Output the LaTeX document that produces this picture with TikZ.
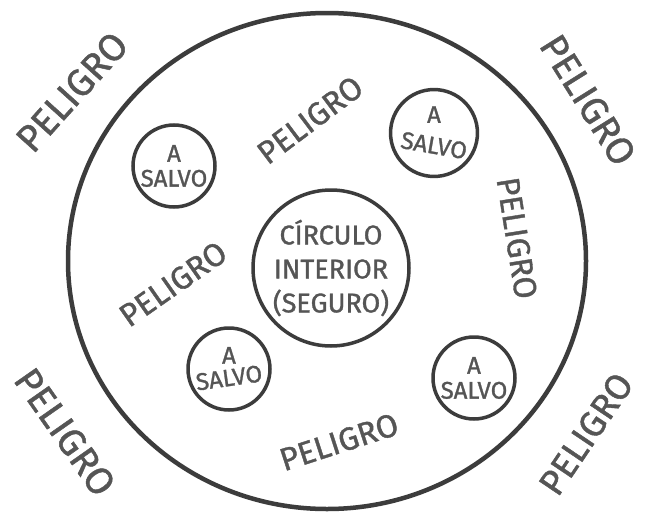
\documentclass[tikz,border=0pt]{standalone}
\usepackage{fontspec}
\setmainfont{Fira Sans}[FakeBold=1.2]
\definecolor{ink}{HTML}{3C3C3C}
\definecolor{txt}{HTML}{555555}
\begin{document}
\begin{tikzpicture}[x=1pt,y=-1pt,
  outerring/.style={draw=ink,line width=4.5pt},
  safe/.style={circle,draw=ink,line width=3.5pt,minimum size=82pt,inner sep=0pt,text=txt,align=center,font=\fontsize{24}{25}\selectfont},
  core/.style={circle,draw=ink,line width=3.5pt,minimum size=156pt,inner sep=0pt,text=txt,align=center,font=\fontsize{27}{34}\selectfont},
  danger/.style={text=txt,inner sep=0pt,font=\fontsize{38}{40}\selectfont},
  dangerin/.style={text=txt,inner sep=0pt,font=\fontsize{32}{34}\selectfont}]
\useasboundingbox[fill=white] (0,0) rectangle (645,514);
\draw[outerring] (327,261) ellipse [x radius=259pt, y radius=248pt];
\node[core] (c) at (331,268) {CÍRCULO\\INTERIOR\\(SEGURO)};
\node[safe] (s1) at (174,166) {A\\SALVO};
\node[safe] (s2) at (434,133) {A\\\rotatebox{-10}{SALVO}};
\node[safe] (s3) at (229,369) {A\\\rotatebox{8}{SALVO}};
\node[safe] (s4) at (474,378) {A\\SALVO};
\node[danger,rotate=48] (p1) at (72,92) {PELIGRO};
\node[danger,rotate=-58] (p2) at (588,100) {PELIGRO};
\node[danger,rotate=-55] (p3) at (65,432) {PELIGRO};
\node[danger,rotate=56,font=\fontsize{36}{38}\selectfont] (p4) at (586,434) {PELIGRO};
\node[dangerin,rotate=37] (p5) at (310,120) {PELIGRO};
\node[dangerin,rotate=-81] (p6) at (517,238) {PELIGRO};
\node[dangerin,rotate=35] (p7) at (173,284) {PELIGRO};
\node[dangerin,rotate=18] (p8) at (339,442) {PELIGRO};
\end{tikzpicture}
\end{document}
